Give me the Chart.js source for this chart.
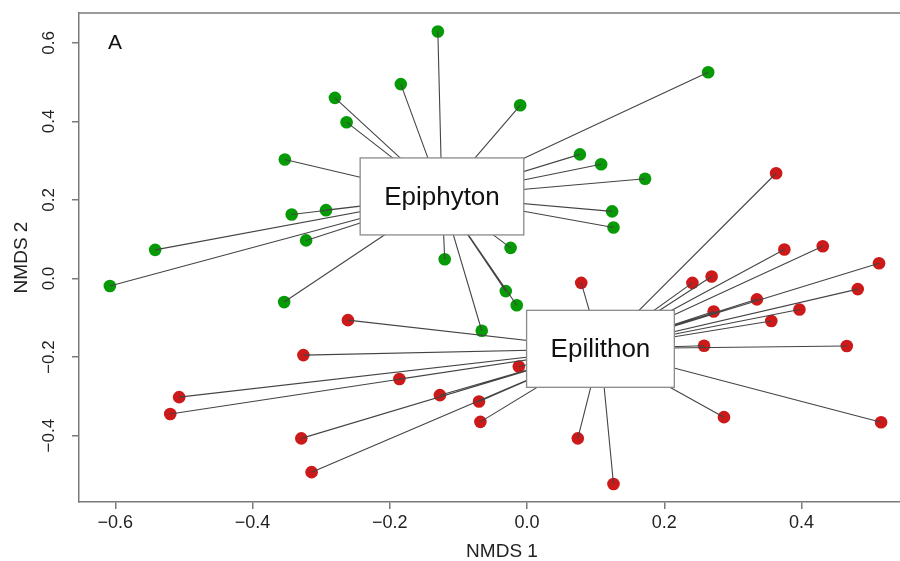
<!DOCTYPE html>
<html>
<head>
<meta charset="utf-8">
<title>NMDS</title>
<script src="https://cdn.jsdelivr.net/npm/chart.js@4.4.1/dist/chart.umd.min.js"></script>
<style>
  html, body { margin: 0; padding: 0; overflow: hidden; background: #fff; }
  canvas { display: block; }
</style>
</head>
<body>
<canvas id="nmds" width="925" height="561"></canvas>
<script>
'use strict';
// site scores on the first two NMDS axes

const epiphytonX = [-0.130, -0.184, -0.280, -0.263, -0.353, -0.343, -0.293, -0.322, -0.542, -0.120, -0.608, -0.354,
  -0.010, 0.264, 0.077, 0.108, 0.172, 0.124, 0.126, -0.024, -0.031, -0.015, -0.066];
const epiphytonY = [0.629, 0.495, 0.460, 0.398, 0.303, 0.163, 0.174, 0.097, 0.073, 0.049, -0.019, -0.060,
  0.441, 0.525, 0.316, 0.291, 0.254, 0.171, 0.130, 0.078, -0.032, -0.068, -0.133];

const epilithonX = [0.363, 0.375, 0.431, 0.513, 0.079, 0.241, 0.269, 0.482, 0.335, 0.272, 0.397, 0.356, 0.258, 0.466,
  -0.012, -0.070, -0.068, 0.074, 0.126, 0.287, 0.516, -0.261, -0.326, -0.186, -0.507, -0.520, -0.127, -0.329, -0.314];
const epilithonY = [0.268, 0.074, 0.082, 0.039, -0.011, -0.011, 0.005, -0.027, -0.053, -0.084, -0.079, -0.108, -0.171, -0.172,
  -0.224, -0.313, -0.365, -0.407, -0.523, -0.353, -0.366, -0.106, -0.195, -0.256, -0.302, -0.345, -0.297, -0.407, -0.493];

// group centroids (spider centres / label positions)
const groupNames = ['Epiphyton', 'Epilithon'];
const centroidX = [-0.124, 0.107];
const centroidY = [0.209, -0.179];

const xTicks = [-0.6, -0.4, -0.2, 0.0, 0.2, 0.4];
const yTicks = [-0.4, -0.2, 0.0, 0.2, 0.4, 0.6];
const xMin = -0.653, xMax = 0.580;
const yMin = -0.569, yMax = 0.676;

const greenCol = '#079a07';
const redCol = '#cc1a1a';
const axisCol = '#7a7a7a';
const fontFam = '"Liberation Sans", Arial, Helvetica, sans-serif';

function fmt(v) {
  return (v < 0 ? '\u2212' : '') + Math.abs(v).toFixed(1);
}

function toPoints(xs, ys) {
  let pts = [];
  for (let i = 0; i < xs.length; i++) {
    pts.push({x: xs[i], y: ys[i]});
  }
  return pts;
}

// centroid -> site segments, separated by gaps
function spider(cx, cy, xs, ys) {
  let seg = [];
  for (let i = 0; i < xs.length; i++) {
    seg.push({x: cx, y: cy});
    seg.push({x: xs[i], y: ys[i]});
    seg.push({x: cx, y: null});
  }
  return seg;
}

const decor = {
  id: 'decor',
  afterDraw(chart) {
    const {ctx, chartArea: a, scales: {x, y}} = chart;
    ctx.save();

    // top of the plot frame
    ctx.strokeStyle = axisCol;
    ctx.lineWidth = 1.5;
    ctx.beginPath();
    ctx.moveTo(a.left, a.top);
    ctx.lineTo(a.right, a.top);
    ctx.stroke();

    // y tick labels, R style (parallel to axis)
    ctx.fillStyle = '#222';
    ctx.font = '17px ' + fontFam;
    ctx.textAlign = 'center';
    ctx.textBaseline = 'middle';
    for (let v of yTicks) {
      ctx.save();
      ctx.translate(49, y.getPixelForValue(v));
      ctx.rotate(-Math.PI / 2);
      ctx.fillText(fmt(v), 0, 0);
      ctx.restore();
    }

    // panel letter
    ctx.font = '21px ' + fontFam;
    ctx.fillStyle = '#111';
    ctx.fillText('A', a.left + 36, a.top + 30);

    // group labels in boxes at the centroids
    ctx.font = '26px ' + fontFam;
    for (let g = 0; g < groupNames.length; g++) {
      const px = x.getPixelForValue(centroidX[g]);
      const py = y.getPixelForValue(centroidY[g]);
      const w = ctx.measureText(groupNames[g]).width + 48;
      const h = 77;
      ctx.fillStyle = '#fff';
      ctx.fillRect(px - w / 2, py - h / 2, w, h);
      ctx.strokeStyle = '#8a8a8a';
      ctx.lineWidth = 1.3;
      ctx.strokeRect(px - w / 2, py - h / 2, w, h);
      ctx.fillStyle = '#111';
      ctx.fillText(groupNames[g], px, py + 1);
    }
    ctx.restore();
  }
};

const ctx = document.getElementById('nmds');

new Chart(ctx, {
  type: 'scatter',
  data: {
    datasets: [
      {
        type: 'line',
        label: 'Epiphyton spider',
        data: spider(centroidX[0], centroidY[0], epiphytonX, epiphytonY),
        borderColor: '#444',
        borderWidth: 1.1,
        pointRadius: 0,
        spanGaps: false,
        order: 0
      },
      {
        type: 'line',
        label: 'Epilithon spider',
        data: spider(centroidX[1], centroidY[1], epilithonX, epilithonY),
        borderColor: '#444',
        borderWidth: 1.1,
        pointRadius: 0,
        spanGaps: false,
        order: 0
      },
      {
        label: 'Epiphyton',
        data: toPoints(epiphytonX, epiphytonY),
        backgroundColor: greenCol,
        borderWidth: 0,
        pointRadius: 6.3,
        order: 1
      },
      {
        label: 'Epilithon',
        data: toPoints(epilithonX, epilithonY),
        backgroundColor: redCol,
        borderWidth: 0,
        pointRadius: 6.3,
        order: 1
      }
    ]
  },
  options: {
    responsive: false,
    animation: false,
    layout: {autoPadding: false, padding: {top: 13, right: 0, bottom: 0, left: 0}},
    plugins: {
      legend: {display: false},
      tooltip: {enabled: false}
    },
    scales: {
      x: {
        type: 'linear',
        min: xMin,
        max: xMax,
        afterBuildTicks: (s) => { s.ticks = xTicks.map(v => ({value: v})); },
        afterFit: (s) => {
          s.height = 59;
          s.paddingLeft = 0;
          s.paddingRight = 0;
        },
        ticks: {
          callback: (v) => fmt(v),
          font: {size: 18, family: fontFam},
          color: '#222',
          padding: 3,
          maxRotation: 0,
          autoSkip: false
        },
        grid: {drawOnChartArea: false, drawTicks: true, tickLength: 7, color: axisCol, lineWidth: 1.5},
        border: {display: true, color: axisCol, width: 1.5},
        title: {display: true, text: 'NMDS 1', font: {size: 19, family: fontFam}, color: '#222', padding: {top: 0, bottom: -2}}
      },
      y: {
        type: 'linear',
        min: yMin,
        max: yMax,
        afterBuildTicks: (s) => { s.ticks = yTicks.map(v => ({value: v})); },
        afterFit: (s) => { s.width = 79; },
        ticks: {display: false},
        grid: {drawOnChartArea: false, drawTicks: true, tickLength: 7, color: axisCol, lineWidth: 1.5},
        border: {display: true, color: axisCol, width: 1.5},
        title: {display: true, text: 'NMDS 2', font: {size: 19, family: fontFam}, color: '#222', padding: {top: 10, bottom: 0}}
      }
    }
  },
  plugins: [decor]
});
</script>
</body>
</html>
